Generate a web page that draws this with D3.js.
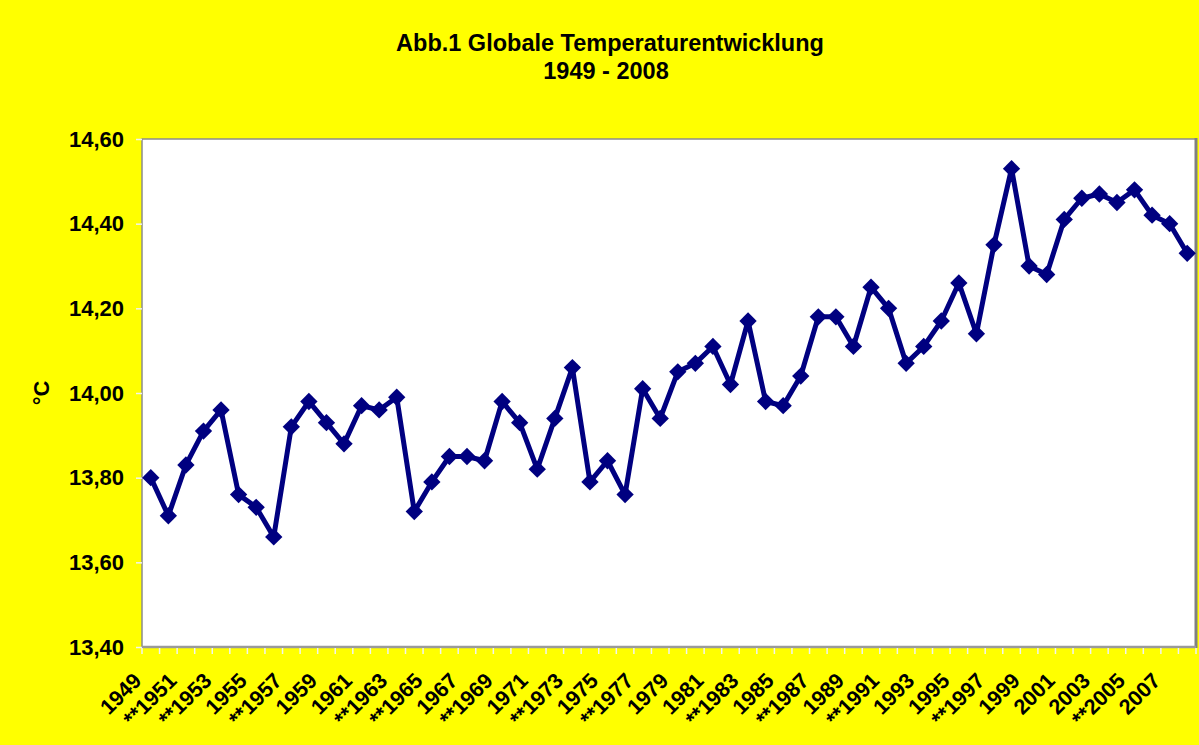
<!DOCTYPE html>
<html lang="de">
<head>
<meta charset="UTF-8">
<title>Globale Temperaturentwicklung</title>
<script src="https://d3js.org/d3.v7.min.js"></script>
<style>
  body { margin: 0; padding: 0; background: #ffff00; }
  svg { display: block; font-family: "Liberation Sans", Arial, sans-serif; }
</style>
</head>
<body>
<script>
// Jahre (Kategorien)
const years = [1949, 1950, 1951, 1952, 1953, 1954, 1955, 1956, 1957, 1958,
  1959, 1960, 1961, 1962, 1963, 1964, 1965, 1966, 1967, 1968,
  1969, 1970, 1971, 1972, 1973, 1974, 1975, 1976, 1977, 1978,
  1979, 1980, 1981, 1982, 1983, 1984, 1985, 1986, 1987, 1988,
  1989, 1990, 1991, 1992, 1993, 1994, 1995, 1996, 1997, 1998,
  1999, 2000, 2001, 2002, 2003, 2004, 2005, 2006, 2007, 2008]

// globale Mitteltemperatur in °C
const temps = [13.80, 13.71, 13.83, 13.91, 13.96, 13.76, 13.73, 13.66, 13.92, 13.98,
  13.93, 13.88, 13.97, 13.96, 13.99, 13.72, 13.79, 13.85, 13.85, 13.84,
  13.98, 13.93, 13.82, 13.94, 14.06, 13.79, 13.84, 13.76, 14.01, 13.94,
  14.05, 14.07, 14.11, 14.02, 14.17, 13.98, 13.97, 14.04, 14.18, 14.18,
  14.11, 14.25, 14.20, 14.07, 14.11, 14.17, 14.26, 14.14, 14.35, 14.53,
  14.30, 14.28, 14.41, 14.46, 14.47, 14.45, 14.48, 14.42, 14.40, 14.33]

// Beschriftung der x-Achse (jedes zweite Jahr)
const xLabels = ["1949", "**1951", "**1953", "1955", "**1957", "1959", "1961", "**1963",
  "**1965", "1967", "**1969", "1971", "**1973", "1975", "**1977", "1979", "1981",
  "**1983", "1985", "**1987", "1989", "**1991", "1993", "1995", "**1997", "1999",
  "2001", "2003", "**2005", "2007"]

const yTicks = [13.4, 13.6, 13.8, 14.0, 14.2, 14.4, 14.6]

const width = 1199
const height = 745
const plot = { left: 142, right: 1196, top: 139, bottom: 647 }

const svg = d3.select("body").append("svg")
  .attr("width", width)
  .attr("height", height)

svg.append("rect")
  .attr("width", width).attr("height", height)
  .attr("fill", "#ffff00")

const x = d3.scaleBand()
  .domain(years)
  .range([plot.left, plot.right])
  .padding(0)

const y = d3.scaleLinear()
  .domain([13.4, 14.6])
  .range([plot.bottom, plot.top])

const cx = yr => x(yr) + x.bandwidth() / 2

// Zeichenfläche
svg.append("rect")
  .attr("x", plot.left).attr("y", plot.top)
  .attr("width", plot.right - plot.left)
  .attr("height", plot.bottom - plot.top)
  .attr("fill", "white")
  .attr("stroke", "#8c8c8c")
  .attr("stroke-width", 1.5)

svg.append("line")
  .attr("x1", plot.right).attr("x2", plot.right)
  .attr("y1", plot.top - 1).attr("y2", plot.bottom + 1)
  .attr("stroke", "#808080").attr("stroke-width", 3)

svg.append("line")
  .attr("x1", plot.left).attr("x2", plot.right)
  .attr("y1", plot.bottom).attr("y2", plot.bottom)
  .attr("stroke", "#9a9a9a").attr("stroke-width", 2.5)

// y-Achse
const yAxis = svg.append("g")
  .attr("transform", `translate(${plot.left},0)`)
  .call(d3.axisLeft(y)
    .tickValues(yTicks)
    .tickSize(6)
    .tickPadding(12)
    .tickFormat(d => d3.format(".2f")(d).replace(".", ",")))

yAxis.select(".domain").remove()
yAxis.selectAll(".tick line").attr("stroke", "#f2f2f2").attr("stroke-width", 1.5)
yAxis.selectAll(".tick text")
  .attr("fill", "black")
  .style("font-size", "22px")
  .style("font-weight", "bold")
  .style("font-family", "'Liberation Sans', Arial, sans-serif")

// x-Achse: Teilstriche an den Kategoriegrenzen
svg.append("g").selectAll("line")
  .data(years.concat([null]))
  .join("line")
  .attr("x1", d => d === null ? plot.right : x(d))
  .attr("x2", d => d === null ? plot.right : x(d))
  .attr("y1", plot.bottom + 1)
  .attr("y2", plot.bottom + 7)
  .attr("stroke", "#f2f2f2")
  .attr("stroke-width", 1.5)

const labelYears = years.filter((d, i) => i % 2 === 0)

svg.append("g").selectAll("text")
  .data(labelYears)
  .join("text")
  .attr("transform", d => `translate(${cx(d) - 8},682) rotate(-45)`)
  .attr("text-anchor", "end")
  .attr("font-size", 21.5)
  .attr("font-weight", "bold")
  .attr("fill", "black")
  .text((d, i) => xLabels[i])

// Linie und Rauten
const line = d3.line()
  .x((d, i) => cx(years[i]))
  .y(d => y(d))

svg.append("path")
  .datum(temps)
  .attr("d", line)
  .attr("fill", "none")
  .attr("stroke", "#000080")
  .attr("stroke-width", 5)
  .attr("stroke-linejoin", "round")

svg.append("g").selectAll("path")
  .data(temps)
  .join("path")
  .attr("d", d3.symbol(d3.symbolSquare, 150))
  .attr("transform", (d, i) => `translate(${cx(years[i])},${y(d)}) rotate(45)`)
  .attr("fill", "#000080")

// Titel
const title = svg.append("text")
  .attr("x", 610)
  .attr("text-anchor", "middle")
  .attr("font-size", 23.5)
  .attr("font-weight", "bold")
  .attr("fill", "black")

title.append("tspan").attr("x", 610).attr("y", 51).text("Abb.1 Globale Temperaturentwicklung")
title.append("tspan").attr("x", 606).attr("y", 79).text("1949 - 2008")

// Achsentitel
svg.append("text")
  .attr("transform", "translate(49,393) rotate(-90)")
  .attr("text-anchor", "middle")
  .attr("font-size", 22)
  .attr("font-weight", "bold")
  .attr("fill", "black")
  .text("°C")
</script>
</body>
</html>
